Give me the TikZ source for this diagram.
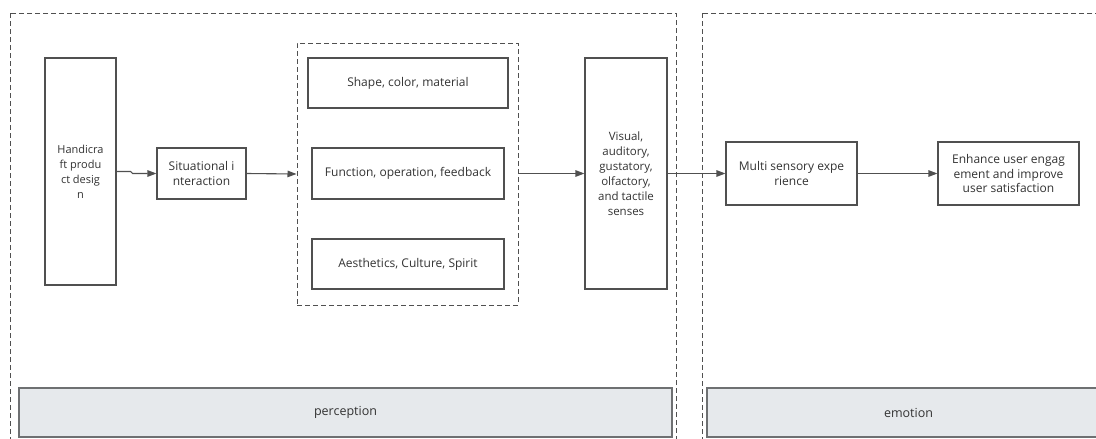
\documentclass[tikz,border=0pt]{standalone}
\usepackage{fontspec}
\setmainfont{Open Sans}
\usetikzlibrary{arrows.meta}
\definecolor{ln}{HTML}{505050}
\definecolor{tx}{HTML}{333333}
\definecolor{barfill}{HTML}{E6E9EC}
\definecolor{barline}{HTML}{6E7072}
\tikzset{
  box/.style={draw=ln, line width=1.1pt, fill=white, align=center, text=tx, inner sep=2pt,
    font=\fontsize{12}{14.6}\selectfont},
  smallbox/.style={box, font=\fontsize{11}{15}\selectfont},
  grpbox/.style={draw=ln, line width=1pt, dash pattern=on 5pt off 3pt},
  bar/.style={draw=barline, line width=1.2pt, fill=barfill, text=tx, font=\fontsize{12.5}{14}\selectfont},
  conn/.style={draw=ln, line width=1.1pt, -{Triangle[length=9pt,width=6.5pt]}},
}
\begin{document}
\begin{tikzpicture}[x=1pt,y=-1pt]
\useasboundingbox (0,0) rectangle (1096,439);
\clip (0,0) rectangle (1096,439);
% swimlanes
\draw[grpbox] (10,13) rectangle (676,470);
\draw[grpbox] (702,13) rectangle (1120,470);
\node[bar, minimum width=653pt, minimum height=49pt] (per) at (345.5,412.5) {perception};
\node[bar, minimum width=403pt, minimum height=49pt] (emo) at (908.5,412.5) {emotion};
% nodes
\node[smallbox, minimum width=71pt, minimum height=227pt] (hd) at (80.5,171.5) {Handicra\\ft produ\\ct desig\\n};
\node[box, minimum width=89pt, minimum height=51pt] (si) at (201.5,173.5) {Situational i\\nteraction};
\node[grpbox, minimum width=221pt, minimum height=262pt] (grp) at (407.5,174) {};
\node[box, minimum width=200pt, minimum height=50pt] (sh) at (408,83) {Shape, color, material};
\node[box, minimum width=192pt, minimum height=51pt] (fn) at (408,173.5) {Function, operation, feedback};
\node[box, minimum width=192pt, minimum height=50pt] (ae) at (408,264) {Aesthetics, Culture, Spirit};
\node[box, minimum width=82pt, minimum height=231pt, font=\fontsize{11.5}{15}\selectfont] (vi) at (626,173.5) {Visual,\\auditory,\\gustatory,\\olfactory,\\and tactile\\senses};
\node[box, minimum width=131pt, minimum height=63pt] (ms) at (791.5,173.5) {Multi sensory expe\\rience};
\node[box, minimum width=141pt, minimum height=63pt] (en) at (1008.5,173.5) {Enhance user engag\\ement and improve\\user satisfaction};
% connectors
\draw[conn] (hd.east) -- ++(14,0) -- ++(2,2) -- (si.west);
\draw[conn] (si.east) -- (grp.west);
\draw[conn] (grp.east |- vi.west) -- (vi.west);
\draw[conn] (vi.east) -- (ms.west);
\draw[conn] (ms.east) -- (en.west);
\end{tikzpicture}
\end{document}
